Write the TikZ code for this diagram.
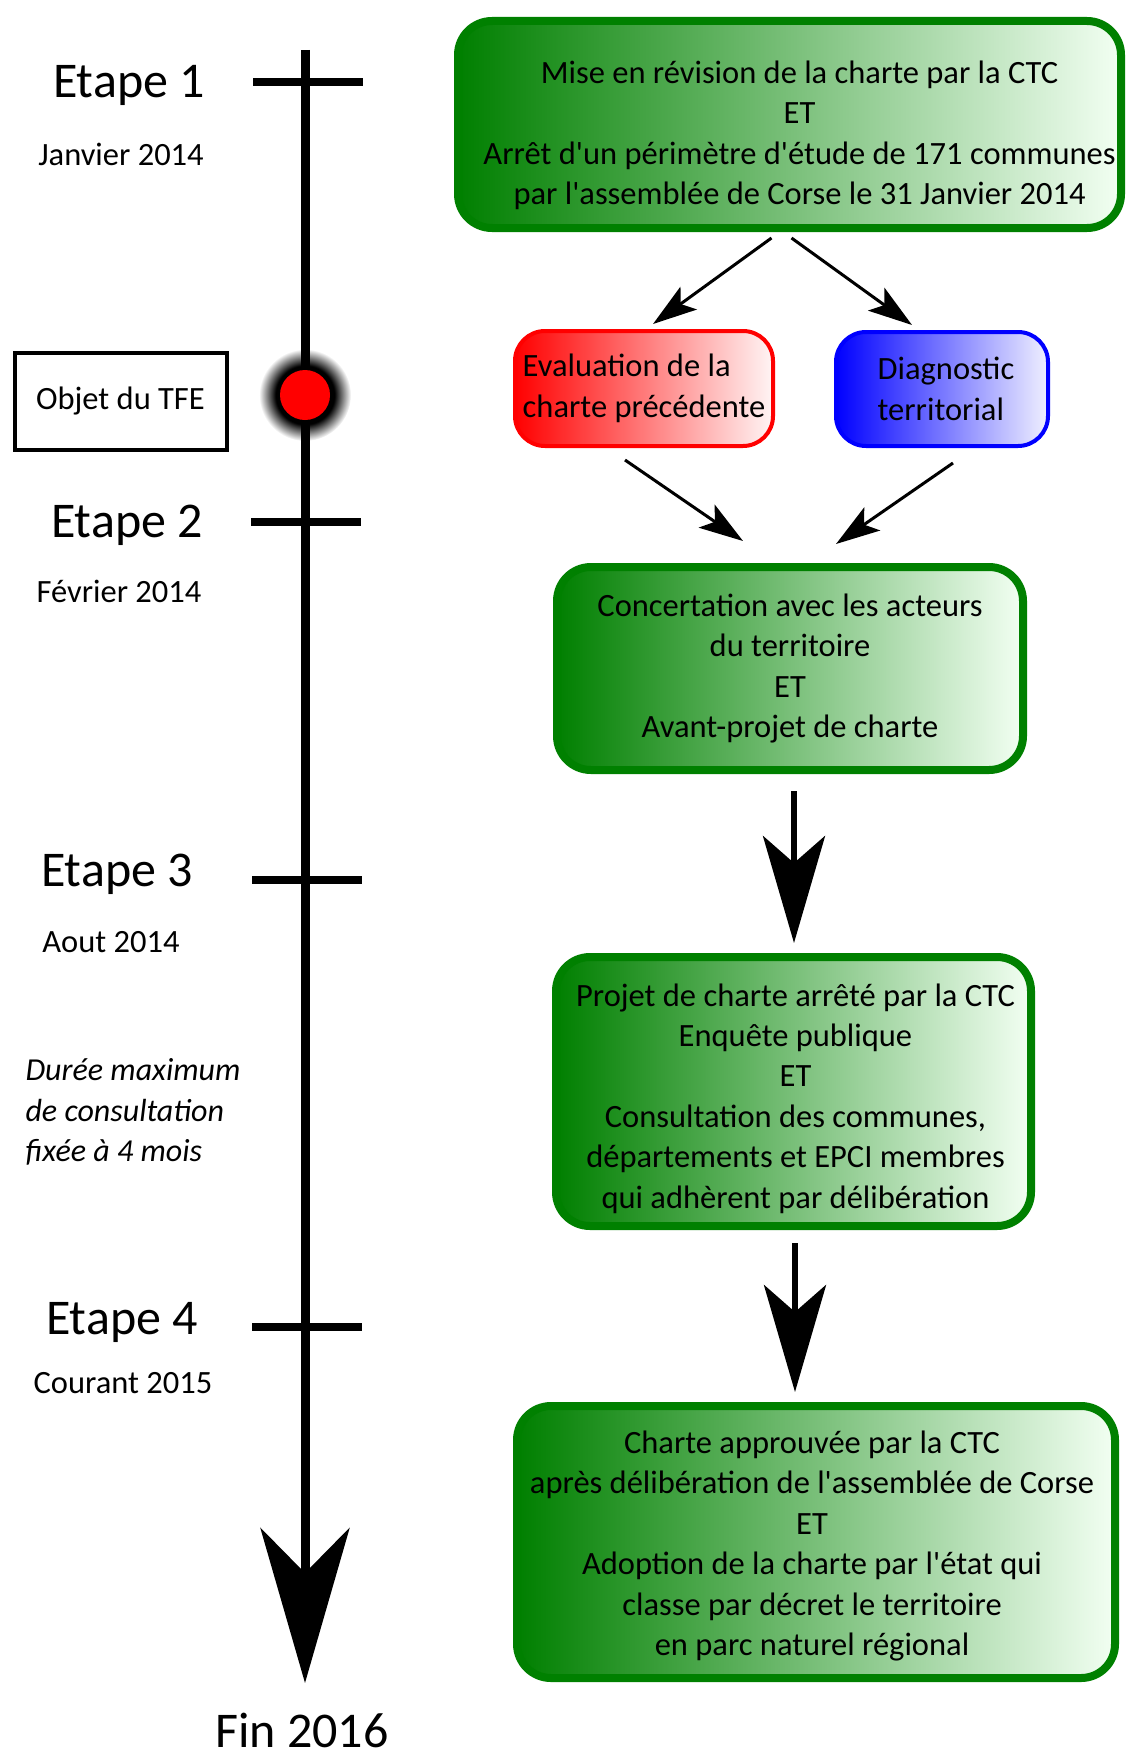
\documentclass[tikz,border=0pt]{standalone}
\usepackage{fontspec}
\setmainfont{Carlito}
\usetikzlibrary{arrows.meta}

\pgfdeclareradialshading{glowdot}{\pgfpointorigin}{color(0bp)=(black); color(16bp)=(black); color(25bp)=(white); color(50bp)=(white)}

\tikzset{
  greenbox/.style={draw=green!50!black, line width=8pt, rounded corners=34pt, left color=green!50!black, right color=green!5!white, align=center, inner sep=0pt, font=\fontsize{32.5}{40.4}\selectfont},
  boxtext/.style={align=center, inner sep=0pt, font=\fontsize{32.5}{40.4}\selectfont},
  redbox/.style={draw=red, line width=4pt, rounded corners=30pt, left color=red, right color=red!4!white, align=left, inner sep=0pt, font=\fontsize{32.5}{40.4}\selectfont},
  bluebox/.style={draw=blue, line width=4pt, rounded corners=30pt, left color=blue, right color=blue!6!white, align=left, inner sep=0pt, font=\fontsize{32.5}{40.4}\selectfont},
  tfebox/.style={draw, line width=4pt, inner sep=0pt, font=\fontsize{32.5}{36}\selectfont},
  steplabel/.style={font=\fontsize{50}{60}\selectfont},
  datelabel/.style={font=\fontsize{32.5}{36}\selectfont},
  timeline/.style={line width=9pt, -{Stealth[length=155pt,width=89pt,inset=45pt]}},
  tickline/.style={line width=8pt},
  bigarrow/.style={line width=6pt, -{Stealth[length=107pt,width=62pt,inset=27pt]}},
  thinarrow/.style={line width=3pt, -{Stealth[length=44pt,width=28pt,inset=10pt]}}
}

\begin{document}
\begin{tikzpicture}[x=1pt,y=-1pt]
\useasboundingbox (0,0) rectangle (1125,1758);

% Glow behind the point
\coordinate (dot) at (305,395);
\shade[shading=glowdot] (dot) circle (46);

% Time axis
\coordinate (tltop) at (305,50);
\coordinate (tlend) at (305,1683);
\draw[timeline] (tltop) -- (tlend);

% Ticks
\draw[tickline] (253,82) -- (363,82);
\draw[tickline] (251,522) -- (361,522);
\draw[tickline] (252,880) -- (362,880);
\draw[tickline] (252,1327) -- (362,1327);

% Red point
\fill[red] (dot) circle (25);

% Steps on the left
\node[steplabel] (et1) at (129,85) {Etape 1};
\node[datelabel] (d1) at (121,154) {Janvier 2014};
\node[tfebox, minimum width=212, minimum height=97] (tfe) at (120.5,401) {Objet du TFE\hspace{12pt}};
\node[steplabel] (et2) at (127,525) {Etape 2};
\node[datelabel] (d2) at (119,591) {Février 2014};
\node[steplabel] (et3) at (117,874) {Etape 3};
\node[datelabel] (d3) at (111,942) {Aout 2014};
\node[datelabel, anchor=west, align=left, font=\fontsize{32}{40.4}\selectfont\itshape] (dur) at (22,1112) {Durée maximum\\de consultation\\fixée à 4 mois};
\node[steplabel] (et4) at (122,1322) {Etape 4};
\node[datelabel] (d4) at (123,1383) {Courant 2015};
\node[steplabel, inner sep=0pt] (fin) at (302,1730) {Fin 2016};

% Boxes on the right
\node[greenbox, minimum width=663, minimum height=207] (b1) at (789.5,124.5) {};
\node[boxtext] (b1t) at ([shift={(10,11)}]b1.center) {Mise en révision de la charte par la CTC\\ET\\Arrêt d\textquotesingle un périmètre d\textquotesingle étude de 171 communes\\par l\textquotesingle assemblée de Corse le 31 Janvier 2014};
\node[redbox, minimum width=258, minimum height=115] (eval) at (644,388.5) {Evaluation de la\\charte précédente};
\node[bluebox, minimum width=212, minimum height=114] (diag) at (942,389) {\hspace{8pt}Diagnostic\\\hspace{8pt}territorial};
\node[greenbox, minimum width=466, minimum height=203] (b2) at (790,668.5) {Concertation avec les acteurs\\du territoire\\ET\\Avant-projet de charte};
\node[greenbox, minimum width=475, minimum height=269] (b3) at (793.5,1091.5) {};
\node[boxtext] (b3t) at ([shift={(2,7)}]b3.center) {Projet de charte arrêté par la CTC\\Enquête publique\\ET\\Consultation des communes,\\départements et EPCI membres\\qui adhèrent par délibération};
\node[greenbox, minimum width=598, minimum height=272] (b4) at (816,1542) {};
\node[boxtext] (b4t) at ([shift={(-4,4)}]b4.center) {Charte approuvée par la CTC\\après délibération de l\textquotesingle assemblée de Corse\\ET\\Adoption de la charte par l\textquotesingle état qui\\classe par décret le territoire\\en parc naturel régional};

% Arrows
\draw[thinarrow] ([shift={(-18,6)}]b1.south) -- ([shift={(9,-5)}]eval.north);
\draw[thinarrow] ([shift={(2,6)}]b1.south) -- ([shift={(-30,-5)}]diag.north);
\draw[thinarrow] ([shift={(-19,12)}]eval.south) -- ([shift={(-47,-22)}]b2.north);
\draw[thinarrow] ([shift={(11,15)}]diag.south) -- ([shift={(46,-19)}]b2.north);
\draw[bigarrow] ([shift={(4,17)}]b2.south) -- ([shift={(0.5,-10)}]b3.north);
\draw[bigarrow] ([shift={(1.5,13)}]b3.south) -- ([shift={(-21,-10)}]b4.north);

\end{tikzpicture}
\end{document}
